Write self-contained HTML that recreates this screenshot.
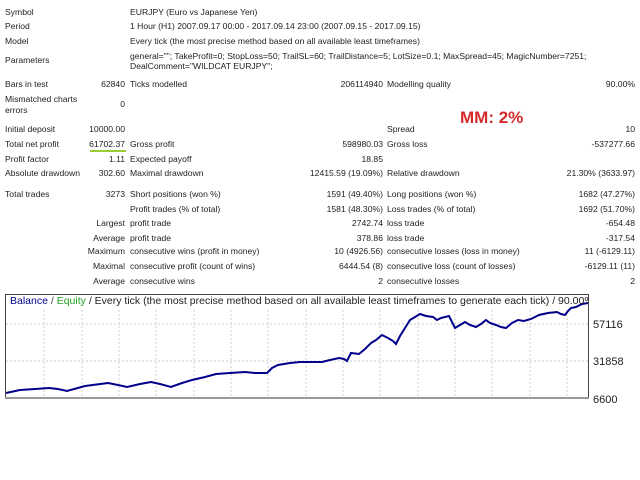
<!DOCTYPE html>
<html><head><meta charset="utf-8"><style>
body{margin:0;width:640px;height:480px;background:#fff;font-family:"Liberation Sans",sans-serif;font-size:8.6px;color:#222;position:relative;overflow:hidden}
.t{position:absolute;white-space:nowrap;line-height:10px}
.r{text-align:right}
</style></head><body>
<div class="t" style="left:5px;top:7px">Symbol</div><div class="t" style="left:130px;top:7px">EURJPY (Euro vs Japanese Yen)</div>
<div class="t" style="left:5px;top:21px">Period</div><div class="t" style="left:130px;top:21px">1 Hour (H1) 2007.09.17 00:00 - 2017.09.14 23:00 (2007.09.15 - 2017.09.15)</div>
<div class="t" style="left:5px;top:36px">Model</div><div class="t" style="left:130px;top:36px">Every tick (the most precise method based on all available least timeframes)</div>
<div class="t" style="left:5px;top:55px">Parameters</div><div class="t" style="left:130px;top:51px">general=""; TakeProfit=0; StopLoss=50; TrailSL=60; TrailDistance=5; LotSize=0.1; MaxSpread=45; MagicNumber=7251;<br>DealComment="WILDCAT EURJPY";</div>
<div class="t" style="left:5px;top:79px">Bars in test</div><div class="t r" style="right:515px;top:79px">62840</div><div class="t" style="left:130px;top:79px">Ticks modelled</div><div class="t r" style="right:257px;top:79px">206114940</div><div class="t" style="left:387px;top:79px">Modelling quality</div><div class="t r" style="right:5px;top:79px">90.00%</div>
<div class="t" style="left:5px;top:94px;line-height:11px">Mismatched charts<br>errors</div><div class="t r" style="right:515px;top:99px">0</div>
<div class="t" style="left:460px;top:108px;color:#d42a2a;font-weight:bold;font-size:17px;line-height:20px">MM: 2%</div>
<div class="t" style="left:5px;top:124px">Initial deposit</div><div class="t r" style="right:515px;top:124px">10000.00</div><div class="t" style="left:387px;top:124px">Spread</div><div class="t r" style="right:5px;top:124px">10</div>
<div class="t" style="left:5px;top:139px">Total net profit</div><div class="t r" style="right:515px;top:139px">61702.37</div><div style="position:absolute;left:90px;top:150px;width:36px;height:2px;background:#9acd32"></div><div class="t" style="left:130px;top:139px">Gross profit</div><div class="t r" style="right:257px;top:139px">598980.03</div><div class="t" style="left:387px;top:139px">Gross loss</div><div class="t r" style="right:5px;top:139px">-537277.66</div>
<div class="t" style="left:5px;top:154px">Profit factor</div><div class="t r" style="right:515px;top:154px">1.11</div><div class="t" style="left:130px;top:154px">Expected payoff</div><div class="t r" style="right:257px;top:154px">18.85</div>
<div class="t" style="left:5px;top:168px">Absolute drawdown</div><div class="t r" style="right:515px;top:168px">302.60</div><div class="t" style="left:130px;top:168px">Maximal drawdown</div><div class="t r" style="right:257px;top:168px">12415.59 (19.09%)</div><div class="t" style="left:387px;top:168px">Relative drawdown</div><div class="t r" style="right:5px;top:168px">21.30% (3633.97)</div>
<div class="t" style="left:5px;top:189px">Total trades</div><div class="t r" style="right:515px;top:189px">3273</div><div class="t" style="left:130px;top:189px">Short positions (won %)</div><div class="t r" style="right:257px;top:189px">1591 (49.40%)</div><div class="t" style="left:387px;top:189px">Long positions (won %)</div><div class="t r" style="right:5px;top:189px">1682 (47.27%)</div>
<div class="t" style="left:130px;top:204px">Profit trades (% of total)</div><div class="t r" style="right:257px;top:204px">1581 (48.30%)</div><div class="t" style="left:387px;top:204px">Loss trades (% of total)</div><div class="t r" style="right:5px;top:204px">1692 (51.70%)</div>
<div class="t r" style="right:515px;top:218px">Largest</div><div class="t" style="left:130px;top:218px">profit trade</div><div class="t r" style="right:257px;top:218px">2742.74</div><div class="t" style="left:387px;top:218px">loss trade</div><div class="t r" style="right:5px;top:218px">-654.48</div>
<div class="t r" style="right:515px;top:233px">Average</div><div class="t" style="left:130px;top:233px">profit trade</div><div class="t r" style="right:257px;top:233px">378.86</div><div class="t" style="left:387px;top:233px">loss trade</div><div class="t r" style="right:5px;top:233px">-317.54</div>
<div class="t r" style="right:515px;top:246px">Maximum</div><div class="t" style="left:130px;top:246px">consecutive wins (profit in money)</div><div class="t r" style="right:257px;top:246px">10 (4926.56)</div><div class="t" style="left:387px;top:246px">consecutive losses (loss in money)</div><div class="t r" style="right:5px;top:246px">11 (-6129.11)</div>
<div class="t r" style="right:515px;top:261px">Maximal</div><div class="t" style="left:130px;top:261px">consecutive profit (count of wins)</div><div class="t r" style="right:257px;top:261px">6444.54 (8)</div><div class="t" style="left:387px;top:261px">consecutive loss (count of losses)</div><div class="t r" style="right:5px;top:261px">-6129.11 (11)</div>
<div class="t r" style="right:515px;top:276px">Average</div><div class="t" style="left:130px;top:276px">consecutive wins</div><div class="t r" style="right:257px;top:276px">2</div><div class="t" style="left:387px;top:276px">consecutive losses</div><div class="t r" style="right:5px;top:276px">2</div>
<svg style="position:absolute;left:0;top:0" width="640" height="480">
<defs><clipPath id="c"><rect x="6" y="295" width="582" height="103"/></clipPath></defs>
<g stroke="#ccc" stroke-dasharray="2,2" stroke-width="1">
<line x1="44" y1="310" x2="44" y2="397"/><line x1="82" y1="310" x2="82" y2="397"/><line x1="119" y1="310" x2="119" y2="397"/><line x1="156" y1="310" x2="156" y2="397"/><line x1="194" y1="310" x2="194" y2="397"/><line x1="231" y1="310" x2="231" y2="397"/><line x1="268" y1="310" x2="268" y2="397"/><line x1="306" y1="310" x2="306" y2="397"/><line x1="343" y1="310" x2="343" y2="397"/><line x1="380" y1="310" x2="380" y2="397"/><line x1="418" y1="310" x2="418" y2="397"/><line x1="455" y1="310" x2="455" y2="397"/><line x1="492" y1="310" x2="492" y2="397"/><line x1="530" y1="310" x2="530" y2="397"/><line x1="567" y1="310" x2="567" y2="397"/>
<line x1="6" y1="324" x2="588" y2="324"/><line x1="6" y1="361" x2="588" y2="361"/>
</g>
<rect x="5.5" y="294.5" width="583" height="104" fill="none" stroke="#444"/>
<line x1="5" y1="398" x2="589" y2="398" stroke="#999" stroke-width="2"/>
<polyline fill="none" stroke="#00008b" stroke-width="2" points="6,393 20,390 35,389 49,388 58,389 67,391 85,386 108,383 118,385 127,387 140,384 151,382 160,384 171,387 182,383 192,380 205,377 216,374 230,373 245,372 255,373 267,373 272,368 278,365 290,363 300,362 310,362 322,362 330,360 339,358 344,359 347,361 351,353 359,354 365,349 371,343 376,340 382,335 388,338 393,341 396,344 400,336 405,328 410,320 415,317 420,314 426,316 433,317 437,320 441,318 449,316 452,322 455,328 460,325 465,322 470,325 476,327 481,324 486,320 490,323 496,325 501,327 506,328 512,323 518,320 524,321 531,319 535,317 539,315 548,313 557,312 561,314 565,315 568,311 571,308 576,307 582,304 588,303"/>
<g clip-path="url(#c)"><text x="10" y="304" font-size="10.5" fill="#00008b">Balance <tspan fill="#444">/</tspan> <tspan fill="#22a022">Equity</tspan> <tspan fill="#222">/ Every tick (the most precise method based on all available least timeframes to generate each tick) / 90.00%</tspan></text></g>
<g font-size="11" fill="#222"><text x="593" y="328">57116</text><text x="593" y="365">31858</text><text x="593" y="403">6600</text></g>
</svg>
</body></html>
